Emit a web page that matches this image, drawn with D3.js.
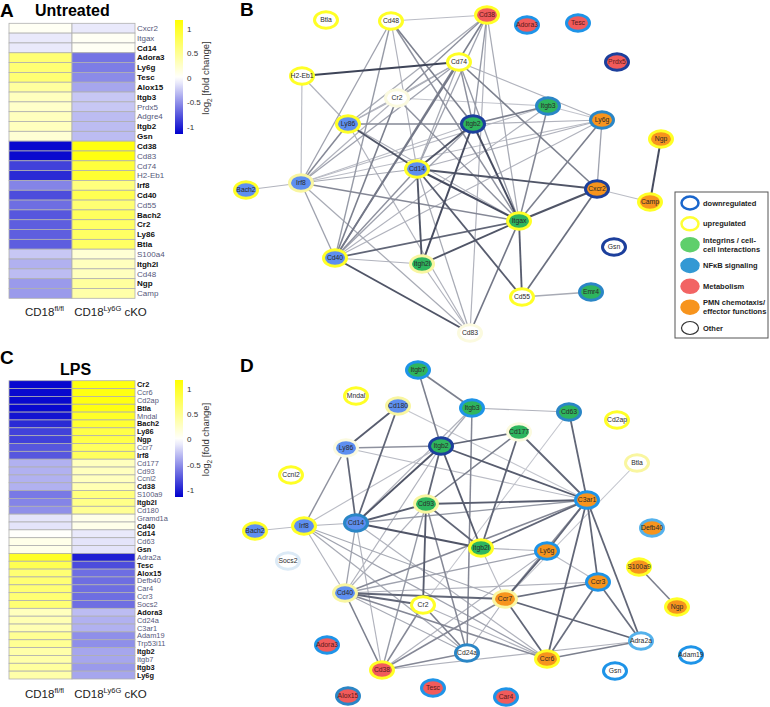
<!DOCTYPE html>
<html><head><meta charset="utf-8">
<script src="https://cdn.jsdelivr.net/npm/d3@7"></script>
<style>body{margin:0;background:#fff}svg{font-family:"Liberation Sans",Arial,sans-serif}</style>
</head><body><svg id="c" width="770" height="707"></svg>
<script>
// ---------- Heatmap data ----------
const columns = ["fl", "cko"];
const rowsA = ["Cxcr2","Itgax","Cd14","Adora3","Ly6g","Tesc","Alox15","Itgb3","Prdx5","Adgre4","Itgb2","Gsn","Cd38","Cd83","Cd74","H2-Eb1","Irf8","Cd40","Cd55","Bach2","Cr2","Ly86","Btla","S100a4","Itgh2l","Cd48","Ngp","Camp"];
const aLeft  = [0.05,-0.1,-0.1,0.65,0.65,0.65,0.45,0.3,0.25,0.3,0.3,0.2,-1.1,-1.1,-0.85,-0.95,-0.55,-0.8,-0.65,-0.75,-0.72,-0.72,-0.72,-0.25,-0.35,-0.3,-0.45,-0.45];
const aRight = [-0.1,0.05,0.05,-0.62,-0.58,-0.52,-0.4,-0.25,-0.25,-0.3,-0.3,-0.3,1.1,1.1,0.9,0.95,0.6,0.8,0.65,0.75,0.72,0.72,0.72,0.2,0.3,0.3,0.45,0.4];
const boldA = ["Cd14","Adora3","Ly6g","Tesc","Alox15","Itgb3","Itgb2","Gsn","Cd38","Irf8","Cd40","Bach2","Cr2","Ly86","Btla","Itgh2l","Ngp"];

const rowsC = ["Cr2","Ccr6","Cd2ap","Btla","Mndal","Bach2","Ly86","Ngp","Ccr7","Irf8","Cd177","Cd93","Ccnl2","Cd38","S100a9","Itgb2l","Cd180","Gramd1a","Cd40","Cd14","Cd63","Gsn","Adra2a","Tesc","Alox15","Defb40","Car4","Ccr3","Socs2","Adora3","Cd24a","C3ar1","Adam19","Trp53i11","Itgb2","Itgb7","Itgb3","Ly6g"];
const cLeft  = [-1.1,-1.1,-1.1,-1.1,-1.05,-0.95,-0.85,-0.85,-0.75,-0.75,-0.35,-0.35,-0.35,-0.35,-0.6,-0.55,-0.5,-0.12,-0.12,0.02,0.1,0.1,1.0,0.8,0.65,0.65,0.65,0.65,0.65,0.3,0.35,0.35,0.5,0.5,0.4,0.4,0.45,0.4];
const cRight = [1.1,1.1,1.1,1.1,1.0,0.95,0.85,0.85,0.75,0.75,0.3,0.3,0.3,0.35,0.6,0.55,0.5,0.1,0.1,-0.1,-0.12,-0.12,-1.0,-0.8,-0.65,-0.65,-0.65,-0.65,-0.65,-0.3,-0.35,-0.35,-0.5,-0.5,-0.4,-0.4,-0.45,-0.4];
const boldC = ["Cr2","Btla","Bach2","Ly86","Ngp","Irf8","Cd38","Itgb2l","Cd40","Cd14","Gsn","Tesc","Alox15","Adora3","Itgb2","Itgb3","Ly6g"];

const colorTicks = [1, 0.5, 0, -0.5, -1];
const colorDomain = [-1.14, 0, 1.18];

// ---------- Network data ----------
// [name, layoutX, layoutY, function, regulation]
const bNodes = [
 ["Btla",86,20,"oth","up1"],["Cd48",151,21,"oth","up1"],["Cd38",247,15,"met","up1"],
 ["Adora3",287,25,"met","dn3"],["Tesc",338,23,"met","dn3"],["Cd74",219,62,"oth","up1"],
 ["H2-Eb1",62,76,"oth","up1"],["Prdx5",377,62,"met","dn1"],["Cr2",157,98,"oth","up3"],
 ["Itgb3",308,106,"int","dn2"],["Ly6g",362,120,"pmn","dn2"],["Ly86",108,124,"nfkb","up1"],
 ["Itgb2",233,124,"int","dn1"],["Ngp",421,139,"pmn","up1"],["Cd14",177,169,"nfkb","up1"],
 ["Irf8",61,183,"nfkb","up2"],["Bach2",6,190,"nfkb","up1"],["Cxcr2",357,189,"pmn","dn1"],
 ["Camp",410,202,"pmn","up1"],["Itgax",279,221,"int","up1"],["Gsn",374,247,"oth","dn1"],
 ["Cd40",95,258,"nfkb","up1"],["Itgh2l",182,264,"int","up2"],["Emr4",351,292,"int","dn2"],
 ["Cd55",282,297,"oth","up1"],["Cd83",230,333,"oth","up3"]
];
const bEdges = [
 ["H2-Eb1","Cd74",0.95],["H2-Eb1","Ly86",0.3],["H2-Eb1","Irf8",0.25],
 ["Cd48","Cd38",0.25],["Cd48","Irf8",0.4],["Cd48","Cd40",0.45],["Cd48","Itgb2",0.6],["Cd48","Itgax",0.5],["Cd48","Cd14",0.3],
 ["Cd38","Cr2",0.5],["Cd38","Ly86",0.35],["Cd38","Cd40",0.6],["Cd38","Itgb2",0.45],["Cd38","Itgax",0.35],["Cd38","Cd83",0.3],["Cd38","Cd14",0.4],
 ["Cd74","Cr2",0.35],["Cd74","Ly86",0.3],["Cd74","Irf8",0.4],["Cd74","Cd40",0.65],["Cd74","Itgb2",0.5],["Cd74","Itgax",0.45],["Cd74","Cxcr2",0.6],["Cd74","Ly6g",0.3],["Cd74","Cd14",0.35],
 ["Cr2","Ly86",0.3],["Cr2","Cd40",0.6],["Cr2","Itgb3",0.2],["Cr2","Itgax",0.5],["Cr2","Irf8",0.3],
 ["Ly86","Itgb2",0.55],["Ly86","Cd14",0.85],["Ly86","Irf8",0.55],["Ly86","Cd83",0.3],["Ly86","Itgax",0.3],
 ["Itgb2","Itgb3",0.6],["Itgb2","Cd14",0.85],["Itgb2","Itgax",0.9],["Itgb2","Itgh2l",0.9],["Itgb2","Ly6g",0.3],["Itgb2","Cd40",0.4],["Itgb2","Irf8",0.25],
 ["Itgb3","Itgax",0.55],["Itgb3","Irf8",0.25],["Itgb3","Cd40",0.3],["Itgb3","Ly6g",0.2],
 ["Ly6g","Itgax",0.6],["Ly6g","Cxcr2",0.4],["Ly6g","Cd14",0.3],["Ly6g","Cd40",0.3],["Ly6g","Irf8",0.25],
 ["Cd14","Cxcr2",0.85],["Cd14","Itgax",0.9],["Cd14","Itgh2l",0.85],["Cd14","Cd55",0.8],["Cd14","Cd40",0.5],["Cd14","Irf8",0.35],["Cd14","Cd83",0.35],
 ["Irf8","Bach2",0.3],["Irf8","Itgax",0.55],["Irf8","Cd40",0.4],["Irf8","Cd83",0.35],
 ["Cxcr2","Itgax",0.85],["Cxcr2","Cd55",0.7],["Cxcr2","Camp",0.25],
 ["Itgax","Cd40",0.75],["Itgax","Itgh2l",0.85],["Itgax","Cd55",0.8],["Itgax","Cd83",0.65],
 ["Cd40","Cd83",0.85],["Cd40","Itgh2l",0.3],["Itgh2l","Cd83",0.3],["Cd55","Emr4",0.35],["Ngp","Camp",0.9]
];
const dNodes = [
 ["Itgb7",178,30,"int","dn3"],["Mndal",116,56,"oth","up1"],["Cd180",158,66,"nfkb","up2"],
 ["Itgb3",232,68,"int","dn3"],["Cd63",329,72,"int","dn2"],["Cd2ap",377,80,"oth","up1"],
 ["Cd177",279,92,"int","up3"],["Ly86",106,108,"nfkb","up3"],["Itgb2",201,106,"int","dn1"],
 ["Btla",397,123,"oth","up2"],["Ccnl2",51,135,"oth","up1"],["Cd93",186,164,"int","up2"],
 ["C3ar1",347,160,"pmn","dn3"],["Irf8",64,186,"nfkb","up1"],["Cd14",116,183,"nfkb","dn2"],
 ["Bach2",15,191,"nfkb","up1"],["Defb40",412,188,"pmn","dn4"],["Itgb2l",241,208,"int","up1"],
 ["Ly6g",307,211,"pmn","dn3"],["Socs2",48,221,"oth","dn5"],["S100a9",399,227,"pmn","up1"],
 ["Ccr3",358,242,"pmn","dn3"],["Cd40",105,253,"nfkb","up2"],["Ccr7",265,259,"pmn","up2"],
 ["Cr2",183,265,"oth","up1"],["Ngp",437,267,"pmn","up1"],["Adra2a",401,301,"oth","dn4"],
 ["Adora3",87,305,"met","dn3"],["Cd24a",227,313,"oth","dn2"],["Adam19",451,315,"oth","dn3"],
 ["Ccr6",307,319,"pmn","up1"],["Cd38",142,330,"met","up1"],["Gsn",375,331,"oth","dn3"],
 ["Tesc",193,348,"met","dn3"],["Alox15",108,356,"met","dn2"],["Car4",266,357,"met","dn3"]
];
const dEdges = [
 ["Itgb7","Itgb3",0.6],["Itgb7","Itgb2",0.6],["Itgb3","Itgb2",0.35],["Itgb3","Cd63",0.3],["Itgb3","Cd24a",0.55],["Itgb3","Cd14",0.3],
 ["Cd180","Ly86",0.8],["Cd180","Cd14",0.75],["Cd180","C3ar1",0.2],
 ["Ly86","Itgb2",0.5],["Ly86","Cd14",0.75],["Ly86","Irf8",0.5],["Ly86","C3ar1",0.25],
 ["Itgb2","Cd177",0.75],["Itgb2","C3ar1",0.8],["Itgb2","Cd14",0.85],["Itgb2","Cd93",0.75],["Itgb2","Itgb2l",0.8],["Itgb2","Irf8",0.25],["Itgb2","Cd40",0.3],
 ["Cd177","C3ar1",0.75],["Cd177","Itgb2l",0.75],["Cd177","Cd93",0.6],
 ["Cd63","C3ar1",0.75],["Cd63","Cr2",0.2],["Btla","Ccr7",0.2],
 ["Cd93","C3ar1",0.8],["Cd93","Cd14",0.8],["Cd93","Itgb2l",0.75],["Cd93","Cr2",0.8],["Cd93","Cd38",0.45],["Cd93","Cd24a",0.55],["Cd93","Cd40",0.3],
 ["C3ar1","Itgb2l",0.75],["C3ar1","Ly6g",0.75],["C3ar1","Ccr3",0.75],["C3ar1","Ccr6",0.75],["C3ar1","Adra2a",0.75],["C3ar1","Ccr7",0.5],["C3ar1","Cd14",0.45],["C3ar1","Cd40",0.55],
 ["Cd14","Itgb2l",0.85],["Cd14","Irf8",0.3],["Cd14","Cd40",0.4],["Cd14","Cd38",0.3],["Cd14","Ccr6",0.3],
 ["Irf8","Bach2",0.25],["Irf8","Cd40",0.3],["Irf8","Ccr7",0.35],["Irf8","Ccr6",0.4],["Irf8","Cd24a",0.35],
 ["Ly6g","Ccr7",0.8],["Ly6g","Cd40",0.4],["Ly6g","Ccr3",0.25],["Ly6g","Cd38",0.3],
 ["Ccr3","Ccr7",0.7],["Ccr3","Ccr6",0.7],["Ccr3","Adra2a",0.7],["Ccr3","Cd40",0.3],
 ["Ccr7","Ccr6",0.75],["Ccr7","Adra2a",0.75],["Ccr7","Cd40",0.75],["Ccr7","Cd38",0.55],["Ccr7","Cd24a",0.3],
 ["Ccr6","Adra2a",0.6],["Ccr6","Cd40",0.55],["Ccr6","Cr2",0.3],
 ["Cd40","Cr2",0.75],["Cd40","Cd38",0.6],["Cd40","Cd24a",0.35],
 ["Cr2","Cd24a",0.6],["Cr2","Cd38",0.55],["Cd38","Cd24a",0.55],["Cd38","Adra2a",0.3],
 ["S100a9","Ngp",0.6],["Itgb2l","Ly6g",0.3],["Itgb2l","Ccr7",0.25]
];
const legendLabels = [["downregulated"],["upregulated"],["Integrins / cell-","cell interactions"],["NF\u03baB signaling"],["Metabolism"],["PMN chemotaxis/","effector functions"],["Other"]];
const legendFill = ["#ffffff","#ffffff","#5fcf6c","#3399d4","#f26464","#f7941d","#ffffff"];
const legendStroke = ["#1a66cc","#ffff33","#5fcf6c","#3399d4","#f26464","#f7941d","#333333"];

// ---------- styles ----------
const fillColor = {int:"#2eb55e", nfkb:"#5e8ff0", met:"#f15b5b", pmn:"#f7941d", oth:"#ffffff"};
const strokeColor = {dn1:"#1c3f9c", dn2:"#2a86c6", dn3:"#1e94e8", dn4:"#55b2ec", dn5:"#dceaf6",
                     up1:"#ffff26", up2:"#f9f6a0", up3:"#fbfadf"};

const svg = d3.select("#c");
const color = d3.scaleLinear().domain(colorDomain).range(["#0000cd","#ffffff","#ffff00"]);

// gradient
const defs = svg.append("defs");
const grad = defs.append("linearGradient").attr("id","cb").attr("x1",0).attr("x2",0).attr("y1",1).attr("y2",0);
const gs = d3.scaleLinear().domain([colorDomain[0], colorDomain[2]]).range([0,1]);
d3.range(0, 21).forEach(i => {
  const v = colorDomain[0] + (colorDomain[2]-colorDomain[0]) * i/20;
  grad.append("stop").attr("offset", gs(v)).attr("stop-color", color(v));
});

function heatmap(rows, left, right, bold, y0, y1, fontSize, cbY0, cbY1, labelY) {
  const g = svg.append("g");
  const x = d3.scaleBand().domain(columns).range([9, 135]);
  const y = d3.scaleBand().domain(rows).range([y0, y1]);
  const vals = [left, right];
  columns.forEach((c, ci) => {
    g.selectAll(null).data(rows).join("rect")
      .attr("x", x(c)).attr("y", d => y(d)).attr("width", x.bandwidth()).attr("height", y.bandwidth())
      .attr("fill", (d, i) => color(vals[ci][i])).attr("stroke", "#b0b0b0").attr("stroke-width", 0.8);
  });
  g.selectAll(null).data(rows).join("text")
    .attr("x", 137).attr("y", d => y(d) + y.bandwidth()/2).attr("dy", "0.35em")
    .attr("font-size", fontSize).attr("font-weight", d => bold.includes(d) ? "bold" : "normal")
    .attr("fill", d => bold.includes(d) ? "#111" : "#55587a").text(d => d);
  // colorbar
  const cs = d3.scaleLinear().domain([colorDomain[0], colorDomain[2]]).range([cbY1, cbY0]);
  g.append("rect").attr("x", 175).attr("y", cbY0).attr("width", 8).attr("height", cbY1 - cbY0).attr("fill", "url(#cb)");
  g.selectAll(null).data(colorTicks).join("text")
    .attr("x", 187).attr("y", d => cs(d)).attr("dy", "0.35em").attr("font-size", 8).attr("fill", "#333")
    .text(d => d);
  const lt = g.append("text").attr("transform", `translate(209,${cs(0)}) rotate(-90)`)
    .attr("text-anchor", "middle").attr("font-size", 9.5).attr("fill", "#333");
  lt.append("tspan").text("log");
  lt.append("tspan").attr("font-size", 6.5).attr("dy", 3).text("2");
  lt.append("tspan").attr("dy", -3).text(" [fold change]");
  // column labels
  const t1 = g.append("text").attr("x", x("fl") + x.bandwidth()/2 + 4).attr("y", labelY).attr("text-anchor","middle").attr("font-size", 11.5).attr("fill","#222");
  t1.append("tspan").text("CD18");
  t1.append("tspan").attr("font-size", 7.5).attr("dy", -5).text("fl/fl");
  const t2 = g.append("text").attr("x", x("cko") + x.bandwidth()/2 + 7).attr("y", labelY).attr("text-anchor","middle").attr("font-size", 11.5).attr("fill","#222");
  t2.append("tspan").text("CD18");
  t2.append("tspan").attr("font-size", 7.5).attr("dy", -5).text("Ly6G");
  t2.append("tspan").attr("dy", 5).text(" cKO");
}

heatmap(rowsA, aLeft, aRight, boldA, 23.3, 298.3, 8, 20, 134, 316);
heatmap(rowsC, cLeft, cRight, boldC, 380.7, 679, 7.4, 380, 497, 698);

// titles
svg.append("text").attr("x", 0).attr("y", 17).attr("font-size", 19).attr("font-weight","bold").text("A");
svg.append("text").attr("x", 35).attr("y", 16).attr("font-size", 16).attr("font-weight","bold").text("Untreated");
svg.append("text").attr("x", 0).attr("y", 364).attr("font-size", 19).attr("font-weight","bold").text("C");
svg.append("text").attr("x", 60).attr("y", 375).attr("font-size", 16).attr("font-weight","bold").text("LPS");
svg.append("text").attr("x", 240).attr("y", 16).attr("font-size", 19).attr("font-weight","bold").text("B");
svg.append("text").attr("x", 240).attr("y", 372).attr("font-size", 19).attr("font-weight","bold").text("D");

// networks
const edgeColor = d3.scaleLinear().domain([0,1]).range(["#e6e7ec","#353b50"]);
const edgeWidth = d3.scaleLinear().domain([0,1]).range([0.8, 2.1]);
function network(nodes, edges, ox, oy) {
  const xs = d3.scaleLinear().domain([0, 100]).range([ox, ox + 100]);
  const ys = d3.scaleLinear().domain([0, 100]).range([oy, oy + 100]);
  const pos = new Map(nodes.map(n => [n[0], [xs(n[1]), ys(n[2])]]));
  const g = svg.append("g");
  const sorted = edges.slice().sort((a, b) => a[2] - b[2]);
  g.selectAll(null).data(sorted).join("line")
    .attr("x1", d => pos.get(d[0])[0]).attr("y1", d => pos.get(d[0])[1])
    .attr("x2", d => pos.get(d[1])[0]).attr("y2", d => pos.get(d[1])[1])
    .attr("stroke", d => edgeColor(d[2])).attr("stroke-width", d => edgeWidth(d[2]));
  const ng = g.selectAll(null).data(nodes).join("g");
  ng.append("ellipse").attr("cx", d => xs(d[1])).attr("cy", d => ys(d[2])).attr("rx", 11.5).attr("ry", 8.3)
    .attr("fill", d => fillColor[d[3]]).attr("stroke", d => strokeColor[d[4]]).attr("stroke-width", 3);
  ng.append("text").attr("x", d => xs(d[1])).attr("y", d => ys(d[2])).attr("dy","0.35em")
    .attr("text-anchor","middle").attr("font-size", 6.8).attr("fill", d => d[3] === "met" ? "#5a1a1a" : "#2a2a2a")
    .text(d => d[0]);
}
network(bNodes, bEdges, 240, 0);
network(dNodes, dEdges, 240, 340);

// legend
const lg = svg.append("g");
lg.append("rect").attr("x", 675).attr("y", 192).attr("width", 93).attr("height", 146).attr("fill","#fff").attr("stroke","#555").attr("stroke-width",1);
const ly = d3.scalePoint().domain(d3.range(legendLabels.length)).range([203, 328]);
legendLabels.forEach((lab, i) => {
  lg.append("ellipse").attr("cx", 690).attr("cy", ly(i)).attr("rx", 8.5).attr("ry", 6.5)
    .attr("fill", legendFill[i]).attr("stroke", legendStroke[i]).attr("stroke-width", i === 6 ? 1.2 : 2.5);
  const t = lg.append("text").attr("x", 703).attr("y", ly(i) - (lab.length - 1) * 4.5).attr("font-size", 7.5)
    .attr("font-weight","bold").attr("fill","#222");
  lab.forEach((l, j) => t.append("tspan").attr("x", 703).attr("dy", j === 0 ? "0.35em" : 9).text(l));
});
</script></body></html>
